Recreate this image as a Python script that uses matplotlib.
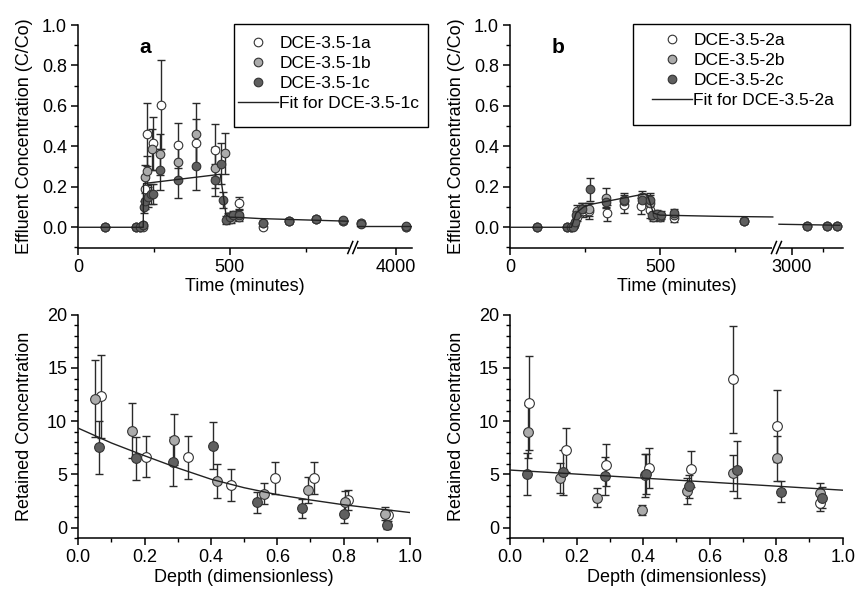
import numpy as np
import matplotlib
matplotlib.use("Agg")
import matplotlib.pyplot as plt
from matplotlib.ticker import MultipleLocator
from matplotlib.patches import Rectangle

plt.rcParams['font.family'] = ['Liberation Sans', 'DejaVu Sans']

# ---------------- data: panel a (effluent) ----------------
t_1a = [90, 190, 205, 213, 220, 228, 248, 272, 330, 390, 451, 500, 531, 610, 695, 785, 873, 3560, 4130]
y_1a = [0, 0, 0, 0.01, 0.19, 0.46, 0.415, 0.605, 0.405, 0.415, 0.38, 0.05, 0.12, 0.0, 0.03, 0.04, 0.03, 0.02, 0.0]
e_1a = [0, 0, 0, 0.01, 0.05, 0.155, 0.13, 0.22, 0.11, 0.12, 0.13, 0.02, 0.03, 0.01, 0.01, 0.01, 0.01, 0.01, 0.005]

t_1b = [90, 190, 205, 213, 220, 226, 245, 270, 330, 390, 451, 484, 495, 505, 531, 610, 695, 785, 873, 3560, 4130]
y_1b = [0, 0, 0, 0.0, 0.25, 0.28, 0.385, 0.36, 0.325, 0.46, 0.295, 0.365, 0.05, 0.04, 0.05, 0.02, 0.03, 0.04, 0.03, 0.02, 0.0]
e_1b = [0, 0, 0, 0, 0.06, 0.07, 0.1, 0.1, 0.08, 0.155, 0.1, 0.1, 0.02, 0.02, 0.02, 0.01, 0.01, 0.01, 0.01, 0.01, 0.005]

t_1c = [90, 190, 205, 213, 218, 222, 230, 240, 248, 270, 330, 390, 450, 470, 478, 487, 500, 510, 531, 610, 695, 785, 873, 3560, 4130]
y_1c = [0, 0, 0, 0.01, 0.10, 0.13, 0.15, 0.165, 0.165, 0.285, 0.233, 0.302, 0.233, 0.315, 0.134, 0.038, 0.05, 0.06, 0.063, 0.02, 0.03, 0.04, 0.035, 0.018, 0.005]
e_1c = [0, 0, 0, 0.01, 0.03, 0.04, 0.05, 0.05, 0.05, 0.1, 0.09, 0.12, 0.08, 0.1, 0.04, 0.02, 0.02, 0.02, 0.02, 0.01, 0.01, 0.01, 0.01, 0.01, 0.005]

fit_a_t_left = [0, 215, 216, 469, 488, 500, 540, 600, 890]
fit_a_y_left = [0, 0, 0.216, 0.262, 0.06, 0.05, 0.048, 0.043, 0.03]
fit_a_t_right = [3510, 4190]
fit_a_y_right = [0.005, 0.005]

# ---------------- data: panel b (effluent) ----------------
t_2a = [90, 190, 205, 215, 222, 245, 265, 322, 380, 437, 467, 480, 500, 547, 780, 3120, 3277, 3361]
y_2a = [0, 0, 0, 0.01, 0.05, 0.08, 0.08, 0.072, 0.11, 0.105, 0.085, 0.06, 0.05, 0.045, 0.03, 0.008, 0.005, 0.005]
e_2a = [0, 0, 0, 0.005, 0.02, 0.03, 0.04, 0.04, 0.04, 0.04, 0.04, 0.02, 0.02, 0.02, 0.01, 0.005, 0.005, 0.005]

t_2b = [90, 190, 205, 215, 224, 240, 264, 320, 380, 439, 467, 478, 500, 547, 780, 3120, 3277, 3361]
y_2b = [0, 0, 0, 0.01, 0.08, 0.09, 0.088, 0.147, 0.13, 0.15, 0.12, 0.05, 0.055, 0.062, 0.03, 0.008, 0.008, 0.008]
e_2b = [0, 0, 0, 0.01, 0.03, 0.03, 0.03, 0.045, 0.03, 0.03, 0.04, 0.02, 0.02, 0.02, 0.01, 0.005, 0.005, 0.005]

t_2c = [90, 190, 205, 209, 217, 220, 239, 267, 320, 380, 439, 467, 472, 491, 505, 547, 780, 3120, 3277, 3361]
y_2c = [0, 0, 0, 0.0, 0.026, 0.06, 0.092, 0.187, 0.125, 0.137, 0.134, 0.137, 0.059, 0.064, 0.06, 0.071, 0.031, 0.008, 0.008, 0.008]
e_2c = [0, 0, 0, 0.005, 0.01, 0.02, 0.03, 0.055, 0.03, 0.03, 0.03, 0.03, 0.02, 0.02, 0.02, 0.02, 0.01, 0.005, 0.005, 0.005]

fit_b_t_left = [0, 205, 220, 245, 265, 380, 450, 458, 478, 500, 700, 876]
fit_b_y_left = [0, 0, 0.07, 0.1, 0.112, 0.145, 0.165, 0.16, 0.07, 0.06, 0.054, 0.051]
fit_b_t_right = [2900, 3380]
fit_b_y_right = [0.015, 0.01]

# ---------------- data: panel c (retained, set 1) ----------------
d_1a = [0.0675, 0.205, 0.332, 0.459, 0.593, 0.71, 0.814, 0.935]
r_1a = [12.33, 6.67, 6.6, 4.03, 4.66, 4.62, 2.6, 1.17]
re_1a = [3.9, 1.9, 2.0, 1.5, 1.5, 1.5, 0.9, 0.5]

d_1b = [0.05, 0.163, 0.289, 0.417, 0.56, 0.694, 0.804, 0.925]
r_1b = [12.1, 9.12, 8.24, 4.4, 3.2, 3.52, 2.42, 1.32]
re_1b = [3.6, 2.6, 2.4, 1.6, 1.0, 1.2, 1.0, 0.6]

d_1c = [0.061, 0.174, 0.286, 0.407, 0.539, 0.675, 0.802, 0.932]
r_1c = [7.55, 6.5, 6.2, 7.7, 2.39, 1.83, 1.32, 0.26]
re_1c = [2.5, 2.0, 2.3, 2.2, 1.0, 0.9, 0.9, 0.4]

fit_c_d = [0, 0.1, 0.2, 0.3, 0.4, 0.5, 0.6, 0.7, 0.8, 0.9, 1.0]
fit_c_r = [9.34, 7.95, 6.75, 5.6, 4.55, 3.75, 3.1, 2.6, 2.15, 1.78, 1.42]

# ---------------- data: panel d (retained, set 2) ----------------
d_2a = [0.058, 0.168, 0.289, 0.418, 0.543, 0.671, 0.803, 0.932]
r_2a = [11.7, 7.3, 5.88, 5.6, 5.5, 13.93, 9.53, 2.36]
re_2a = [4.4, 2.1, 2.0, 1.9, 1.7, 5.0, 3.4, 0.8]

d_2b = [0.055, 0.150, 0.262, 0.398, 0.405, 0.531, 0.669, 0.803, 0.932]
r_2b = [9.03, 4.66, 2.83, 1.64, 4.9, 3.46, 5.13, 6.51, 3.25]
re_2b = [2.5, 1.4, 0.9, 0.45, 2.0, 1.2, 1.7, 2.1, 0.9]

d_2c = [0.052, 0.158, 0.286, 0.408, 0.539, 0.681, 0.814, 0.937]
r_2c = [5.03, 5.19, 4.88, 5.03, 3.87, 5.44, 3.37, 2.83]
re_2c = [2.0, 2.1, 1.8, 1.9, 1.1, 2.7, 1.0, 1.0]

fit_d_d = [0.0, 1.0]
fit_d_r = [5.41, 3.52]

labels_1 = ['DCE-3.5-1a', 'DCE-3.5-1b', 'DCE-3.5-1c', 'Fit for DCE-3.5-1c']
labels_2 = ['DCE-3.5-2a', 'DCE-3.5-2b', 'DCE-3.5-2c', 'Fit for DCE-3.5-2a']

# ---------------- style ----------------
FILLS = ['white', '#ababab', '#5f5f5f']
EDGE = '#333333'
ERRC = '#2a2a2a'
FS = 13
LFS = 12.5

W, H = 857, 589
fig = plt.figure(figsize=(W / 100, H / 100), dpi=100)


def add_ax(l, r, t, b):
    return fig.add_axes([l / W, 1 - b / H, (r - l) / W, (b - t) / H])


axA = add_ax(78, 411.5, 25, 247.5)
axB = add_ax(510, 843.3, 25, 247.5)
axC = add_ax(78.3, 410, 314.7, 538.3)
axD = add_ax(510, 842.7, 314.7, 538.3)


def style(ax):
    for s in ('top', 'right'):
        ax.spines[s].set_visible(False)
    for s in ('left', 'bottom'):
        ax.spines[s].set_linewidth(1.1)
    ax.tick_params(which='major', direction='out', length=5, width=1.1, labelsize=FS, pad=3)
    ax.tick_params(which='minor', direction='out', length=3, width=1.0)


def piecewise(L, R0, R1, uL, uR0, uR1):
    big = 1e6
    k = (uR1 - uR0) / (R1 - R0)
    xd = np.array([-big, 0.0, L, R0, R1, big])
    xu = np.array([-big, 0.0, uL, uR0, uR1, uR1 + (big - R1) * k])

    def fwd(x):
        return np.interp(x, xd, xu)

    def inv(u):
        return np.interp(u, xu, xd)
    return fwd, inv


def series(ax, xs, ys, es, fill, label, ms):
    ax.errorbar(xs, ys, yerr=es, fmt='none', ecolor=ERRC, elinewidth=1.0,
                capsize=2.8, capthick=1.0, zorder=3)
    ax.plot(xs, ys, ls='none', marker='o', ms=ms, mfc=fill, mec=EDGE,
            mew=0.8, label=label, zorder=4)


def draw_break(ax, frac, axw, axh):
    dx = 1.0 / axw
    dy = 1.0 / axh
    ax.plot([frac - 4 * dx, frac + 4 * dx], [0, 0], color='white', lw=3,
            transform=ax.transAxes, clip_on=False, zorder=6, solid_capstyle='butt')
    for off in (-2.5, 2.5):
        ax.plot([frac + (off - 2.5) * dx, frac + (off + 2.5) * dx], [-6 * dy, 6 * dy],
                color='black', lw=1.1, transform=ax.transAxes, clip_on=False, zorder=7)


def legend_box(ax, x_handle, y_top, box):
    lg = ax.legend(loc='upper left', bbox_to_anchor=(x_handle / W, 1 - y_top / H),
                   bbox_transform=fig.transFigure, frameon=False, fontsize=LFS,
                   borderpad=0, handlelength=2.3, handletextpad=0.08, labelspacing=0.28,
                   borderaxespad=0)
    l, t, r, b = box
    fig.patches.append(Rectangle((l / W, 1 - b / H), (r - l) / W, (b - t) / H,
                                 transform=fig.transFigure, fill=False,
                                 edgecolor='black', lw=1.0, zorder=10))
    return lg


# ---------- panel a ----------
px_a = 0.3034
fwdA, invA = piecewise(895, 3500, 4200, 895, (356 - 78) / px_a, (411.5 - 78) / px_a)
axA.set_xscale('function', functions=(fwdA, invA))
style(axA)
series(axA, t_1a, y_1a, e_1a, FILLS[0], labels_1[0], 6.2)
series(axA, t_1b, y_1b, e_1b, FILLS[1], labels_1[1], 6.2)
series(axA, t_1c, y_1c, e_1c, FILLS[2], labels_1[2], 6.2)
axA.plot(fit_a_t_left, fit_a_y_left, color='#222222', lw=1.0, label=labels_1[3], zorder=5)
axA.plot(fit_a_t_right, fit_a_y_right, color='#222222', lw=1.0, zorder=5)
axA.set_xlim(0, 4200)
axA.set_ylim(-0.1, 1.0)
axA.set_xticks([0, 500, 4000], labels=['0', '500', '4000'])
axA.set_xticks([250, 750], minor=True)
axA.set_yticks([0, 0.2, 0.4, 0.6, 0.8, 1.0], labels=['0.0', '0.2', '0.4', '0.6', '0.8', '1.0'])
axA.yaxis.set_minor_locator(MultipleLocator(0.1))
axA.set_xlabel('Time (minutes)', fontsize=FS, labelpad=2)
axA.set_ylabel('Effluent Concentration (C/Co)', fontsize=FS, labelpad=6)
axA.text(0.2, 0.9, 'a', transform=axA.transAxes, fontsize=15, fontweight='bold', ha='center', va='center')
fracA = (fwdA((895 + 3500) / 2) - fwdA(0)) / (fwdA(4200) - fwdA(0))
draw_break(axA, fracA, 333.5, 222.5)
legend_box(axA, 238, 36, (234, 24, 428, 127))

# ---------- panel b ----------
px_b = 0.3
fwdB, invB = piecewise(880, 2900, 3400, 880, (779 - 510) / px_b, (842.2 - 510) / px_b)
axB.set_xscale('function', functions=(fwdB, invB))
style(axB)
series(axB, t_2a, y_2a, e_2a, FILLS[0], labels_2[0], 6.2)
series(axB, t_2b, y_2b, e_2b, FILLS[1], labels_2[1], 6.2)
series(axB, t_2c, y_2c, e_2c, FILLS[2], labels_2[2], 6.2)
axB.plot(fit_b_t_left, fit_b_y_left, color='#222222', lw=1.0, label=labels_2[3], zorder=5)
axB.plot(fit_b_t_right, fit_b_y_right, color='#222222', lw=1.0, zorder=5)
axB.set_xlim(0, 3409)
axB.set_ylim(-0.1, 1.0)
axB.set_xticks([0, 500, 3000], labels=['0', '500', '3000'])
axB.set_xticks([250, 750, 3250], minor=True)
axB.set_yticks([0, 0.2, 0.4, 0.6, 0.8, 1.0], labels=['0.0', '0.2', '0.4', '0.6', '0.8', '1.0'])
axB.yaxis.set_minor_locator(MultipleLocator(0.1))
axB.set_xlabel('Time (minutes)', fontsize=FS, labelpad=2)
axB.set_ylabel('Effluent Concentration (C/Co)', fontsize=FS, labelpad=6)
axB.text(0.145, 0.9, 'b', transform=axB.transAxes, fontsize=15, fontweight='bold', ha='center', va='center')
fracB = (fwdB((880 + 2900) / 2) - fwdB(0)) / (fwdB(3409) - fwdB(0))
draw_break(axB, fracB, 333.3, 222.5)
legend_box(axB, 652, 33, (633, 24, 850, 125))

# ---------- panel c ----------
style(axC)
series(axC, d_1a, r_1a, re_1a, FILLS[0], labels_1[0], 7)
series(axC, d_1b, r_1b, re_1b, FILLS[1], labels_1[1], 7)
series(axC, d_1c, r_1c, re_1c, FILLS[2], labels_1[2], 7)
axC.plot(fit_c_d, fit_c_r, color='#222222', lw=1.0, zorder=5)

# ---------- panel d ----------
style(axD)
series(axD, d_2a, r_2a, re_2a, FILLS[0], labels_2[0], 7)
series(axD, d_2b, r_2b, re_2b, FILLS[1], labels_2[1], 7)
series(axD, d_2c, r_2c, re_2c, FILLS[2], labels_2[2], 7)
axD.plot(fit_d_d, fit_d_r, color='#222222', lw=1.0, zorder=5)

for ax in (axC, axD):
    ax.set_xlim(0, 1.0)
    ax.set_ylim(-1, 20)
    ax.set_xticks([0, 0.2, 0.4, 0.6, 0.8, 1.0], labels=['0.0', '0.2', '0.4', '0.6', '0.8', '1.0'])
    ax.xaxis.set_minor_locator(MultipleLocator(0.1))
    ax.set_yticks([0, 5, 10, 15, 20])
    ax.yaxis.set_minor_locator(MultipleLocator(1))
    ax.set_xlabel('Depth (dimensionless)', fontsize=FS, labelpad=2)
    ax.set_ylabel('Retained Concentration', fontsize=FS, labelpad=10)

fig.savefig('out.png', dpi=100)
